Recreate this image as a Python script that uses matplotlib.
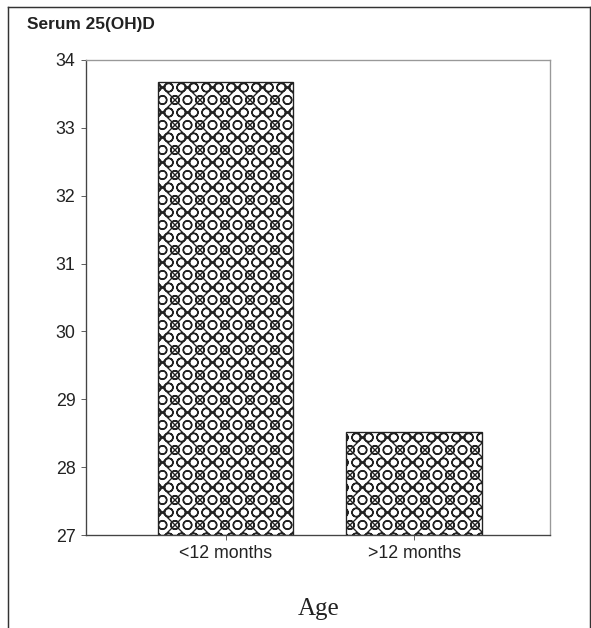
import matplotlib
matplotlib.use("Agg")
import matplotlib.pyplot as plt

categories = ["<12 months", ">12 months"]
values = [33.68, 28.52]
yticks = [27, 28, 29, 30, 31, 32, 33, 34]

DPI = 75
W, H = 591, 628
plt.rcParams['hatch.linewidth'] = 1.3
plt.rcParams['hatch.color'] = "#1a1a1a"

fig = plt.figure(figsize=(W / DPI, H / DPI), dpi=DPI)
ax = fig.add_axes([86 / W, 93 / H, 464 / W, 475 / H])

x = list(range(len(categories)))
ax.bar(x, [v - 27 for v in values], bottom=27, width=0.72, color="white",
       edgecolor="#222222", linewidth=1.3, hatch="xO")

ax.set_ylim(27, 34)
ax.set_xlim(-0.74, 1.72)
ax.set_yticks(yticks)
ax.set_xticks(x)
ax.set_xticklabels(categories)
ax.tick_params(labelsize=17, direction="out", length=5, color="#444444", pad=5)
for lab in ax.get_xticklabels() + ax.get_yticklabels():
    lab.set_family("Liberation Sans")
    lab.set_color("#222222")
for side in ["left", "bottom"]:
    ax.spines[side].set_color("#444444")
    ax.spines[side].set_linewidth(1.3)
for side in ["top", "right"]:
    ax.spines[side].set_color("#999999")
    ax.spines[side].set_linewidth(1.3)

fig.text(27 / W, 1 - 24 / H, "Serum 25(OH)D", fontsize=16.6, fontweight="bold",
         family="Liberation Sans", va="center", ha="left", color="#222222")
fig.text(319 / W, 1 - 609 / H, "Age", fontsize=24, family="Liberation Serif",
         va="center", ha="center", color="#222222")

# outer frame (open at the bottom)
fig.add_artist(plt.Line2D([8 / W, 8 / W], [0, 1 - 7 / H], color="#333333", lw=1.4,
                          transform=fig.transFigure))
fig.add_artist(plt.Line2D([8 / W, 590 / W], [1 - 7 / H, 1 - 7 / H], color="#333333",
                          lw=1.4, transform=fig.transFigure))
fig.add_artist(plt.Line2D([590 / W, 590 / W], [0, 1 - 7 / H], color="#333333", lw=1.4,
                          transform=fig.transFigure))

fig.savefig("out.png", dpi=DPI)
